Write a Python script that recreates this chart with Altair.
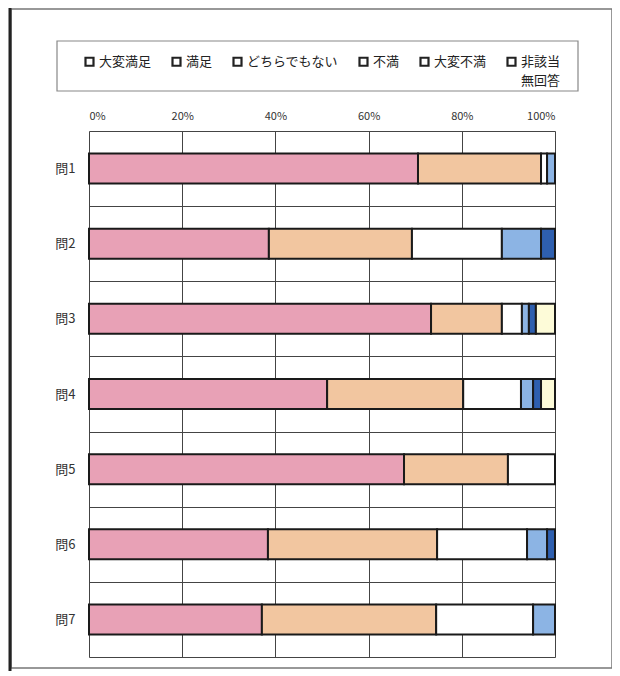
import altair as alt
import pandas as pd

questions = ["問1", "問2", "問3", "問4", "問5", "問6", "問7"]
categories = ["大変満足", "満足", "どちらでもない", "不満", "大変不満", "非該当無回答"]
colors = ["#E8A1B6", "#F2C6A0", "#FFFFFF", "#8CB4E4", "#2E5FAF", "#FDFBD8"]

v_very_satisfied = [70.6, 38.6, 73.4, 51.1, 67.6, 38.4, 37.1]
v_satisfied = [26.4, 30.7, 15.2, 29.2, 22.3, 36.3, 37.4]
v_neutral = [1.3, 19.3, 4.3, 12.4, 10.1, 19.3, 20.8]
v_dissatisfied = [1.7, 8.4, 1.5, 2.6, 0.0, 4.3, 4.7]
v_very_dissatisfied = [0.0, 3.0, 1.5, 1.7, 0.0, 1.7, 0.0]
v_na = [0.0, 0.0, 4.1, 3.0, 0.0, 0.0, 0.0]

series = [v_very_satisfied, v_satisfied, v_neutral, v_dissatisfied, v_very_dissatisfied, v_na]

rows = []
for ci, (cat, vals) in enumerate(zip(categories, series)):
    for q, v in zip(questions, vals):
        if v > 0:
            rows.append({"question": q, "category": cat, "order": ci, "value": v})
df = pd.DataFrame(rows)
legend_df = pd.DataFrame({"legend_item": categories})

FONT = "Noto Sans CJK JP"

bars = alt.Chart(df).mark_bar(size=30, stroke="#1a1a1a", strokeWidth=2).encode(
    y=alt.Y("question:N", sort=questions, title=None,
            scale=alt.Scale(paddingInner=0, paddingOuter=0),
            axis=alt.Axis(grid=True, tickBand="extent", ticks=False, domain=False,
                          gridColor="#444", gridWidth=1, labelFont=FONT, labelFontSize=13,
                          labelColor="#333", labelPadding=14)),
    x=alt.X("value:Q", stack="zero", title=None,
            scale=alt.Scale(domain=[0, 100], nice=False),
            axis=alt.Axis(orient="top", values=[0, 20, 40, 60, 80, 100],
                          labelExpr="datum.value + '%'", grid=True, gridColor="#444",
                          gridWidth=1, ticks=False, domain=False, labelFont=FONT,
                          labelFontSize=11, labelColor="#333", labelPadding=10)),
    color=alt.Color("category:N", sort=categories,
                    scale=alt.Scale(domain=categories, range=colors), legend=None),
    order=alt.Order("order:Q"),
)

legend_layer = alt.Chart(legend_df).mark_point(size=0, filled=False).encode(
    shape=alt.Shape("legend_item:N", sort=categories,
                    scale=alt.Scale(domain=categories, range=["square"] * 6),
                    legend=alt.Legend(
                        orient="none", legendX=-6, legendY=-76, direction="horizontal",
                        columns=6, title=None, symbolSize=64,
                        symbolFillColor="#ffffff", symbolStrokeColor="#222222",
                        symbolStrokeWidth=2.2, symbolOpacity=1,
                        labelFont=FONT, labelFontSize=13, labelColor="#222",
                        labelOffset=3, columnPadding=16, padding=0,
                        labelExpr="datum.label == '非該当無回答' ? ['非該当', '無回答'] : [datum.label, '']")),
)

deco = pd.DataFrame({"k": [0]})

legend_box = alt.Chart(deco).mark_rect(fillOpacity=0, stroke="#888", strokeWidth=1.2).encode(
    x=alt.value(-32), x2=alt.value(489), y=alt.value(-90), y2=alt.value(-40)
)

frame = alt.Chart(deco).mark_rect(fillOpacity=0, stroke="#777", strokeWidth=1.5).encode(
    x=alt.value(-78), x2=alt.value(523), y=alt.value(-122), y2=alt.value(537)
)

left_bar = alt.Chart(deco).mark_rule(stroke="#222", strokeWidth=3).encode(
    x=alt.value(-79), y=alt.value(-123), y2=alt.value(540)
)

chart = alt.layer(frame, left_bar, legend_box, bars, legend_layer).resolve_legend(
    shape="independent", color="independent"
).properties(
    width=466, height=526,
    autosize=alt.AutoSizeParams(type="none"),
    padding={"left": 81, "top": 123, "right": 57, "bottom": 19},
).configure_view(stroke="#444", strokeWidth=1).configure(
    background="white", style={"guide-label": {"lineHeight": 19}}
)

chart.save("out.html", embed_options={"renderer": "svg", "actions": False})
